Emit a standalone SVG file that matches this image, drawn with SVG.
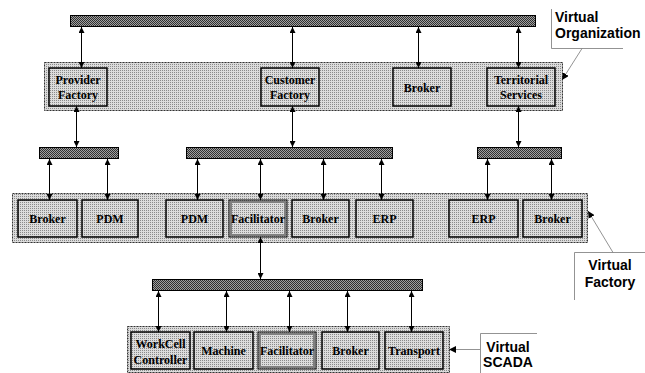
<svg xmlns="http://www.w3.org/2000/svg" width="645" height="373" viewBox="0 0 645 373">
<defs>
<marker id="ah" viewBox="0 0 10 10" refX="10" refY="5" markerWidth="6" markerHeight="6" orient="auto-start-reverse" markerUnits="userSpaceOnUse">
<path d="M0,0 L10,5 L0,10 z" fill="#000"/>
</marker>
<marker id="ahs" viewBox="0 0 10 10" refX="10" refY="5" markerWidth="7" markerHeight="7" orient="auto" markerUnits="userSpaceOnUse">
<path d="M0,0 L10,5 L0,10 z" fill="#000"/>
</marker>
<pattern id="dots" width="2" height="2" patternUnits="userSpaceOnUse">
<rect width="2" height="2" fill="#dcdcdc"/>
<rect width="1" height="1" fill="#8a8a8a"/>
</pattern>
<pattern id="hatch" width="2" height="2" patternUnits="userSpaceOnUse">
<rect width="2" height="2" fill="#a0a0a0"/>
<rect width="1" height="1" fill="#303030"/>
<rect x="1" y="1" width="1" height="1" fill="#303030"/>
</pattern>
</defs>
<style>
.bar{fill:url(#hatch);stroke:#000;stroke-width:1}
.cont{fill:url(#dots);stroke:#333;stroke-width:1;stroke-dasharray:2,1}
.box{fill:url(#dots);stroke:#000;stroke-width:1.5}
.fac{fill:url(#dots);stroke:#000;stroke-width:1}
.facin{fill:none;stroke:#808080;stroke-width:2}
.lbl{font-family:"Liberation Serif",serif;font-weight:bold;font-size:12px;text-anchor:middle;fill:#000}
.call{font-family:"Liberation Sans",Arial,sans-serif;font-weight:bold;font-size:14px;fill:#000}
.con{stroke:#000;stroke-width:1;fill:none;marker-start:url(#ah);marker-end:url(#ah)}
.co{stroke:#777;stroke-width:0.8;fill:none}
</style>

<g id="containers">
<rect class="cont" x="44.5" y="62.5" width="518" height="48"/>
<rect class="cont" x="12.5" y="193.5" width="575" height="49"/>
<rect class="cont" x="127.5" y="326.5" width="322" height="46"/>
</g>

<g id="bars">
<rect id="bar-top" class="bar" x="70.5" y="15.5" width="465" height="11"/>
<rect id="bar-left" class="bar" x="39.5" y="147.5" width="79" height="11"/>
<rect id="bar-mid" class="bar" x="186.5" y="147.5" width="206" height="11"/>
<rect id="bar-right" class="bar" x="477.5" y="147.5" width="84" height="11"/>
<rect id="bar-bottom" class="bar" x="152.5" y="279.5" width="270" height="11"/>
</g>

<g id="connectors">
<line class="con" x1="81.5" y1="27" x2="81.5" y2="68"/>
<line class="con" x1="292.5" y1="27" x2="292.5" y2="68"/>
<line class="con" x1="418.5" y1="27" x2="418.5" y2="68"/>
<line class="con" x1="518.5" y1="27" x2="518.5" y2="68"/>
<line class="con" x1="76.5" y1="106" x2="76.5" y2="147"/>
<line class="con" x1="292.5" y1="106" x2="292.5" y2="147"/>
<line class="con" x1="518.5" y1="106" x2="518.5" y2="147"/>
<line class="con" x1="49.5" y1="159" x2="49.5" y2="200"/>
<line class="con" x1="107.5" y1="159" x2="107.5" y2="200"/>
<line class="con" x1="197.5" y1="159" x2="197.5" y2="200"/>
<line class="con" x1="260.5" y1="159" x2="260.5" y2="200"/>
<line class="con" x1="323.5" y1="159" x2="323.5" y2="200"/>
<line class="con" x1="381.5" y1="159" x2="381.5" y2="200"/>
<line class="con" x1="487.5" y1="159" x2="487.5" y2="200"/>
<line class="con" x1="551.5" y1="159" x2="551.5" y2="200"/>
<line class="con" x1="260.5" y1="237" x2="260.5" y2="279"/>
<line class="con" x1="158.5" y1="291" x2="158.5" y2="332"/>
<line class="con" x1="226.5" y1="291" x2="226.5" y2="332"/>
<line class="con" x1="289.5" y1="291" x2="289.5" y2="332"/>
<line class="con" x1="347.5" y1="291" x2="347.5" y2="332"/>
<line class="con" x1="411.5" y1="291" x2="411.5" y2="332"/>
</g>

<g id="provider-factory"><rect class="box" x="49" y="68" width="58" height="38"/><text class="lbl" x="78" y="84">Provider</text><text class="lbl" x="78" y="99">Factory</text></g>
<g id="customer-factory"><rect class="box" x="261" y="68" width="58" height="38"/><text class="lbl" x="290" y="84">Customer</text><text class="lbl" x="290" y="99">Factory</text></g>
<g id="org-broker"><rect class="box" x="393" y="68" width="58" height="38"/><text class="lbl" x="422" y="92">Broker</text></g>
<g id="territorial-services"><rect class="box" x="487" y="68" width="68" height="38"/><text class="lbl" x="521" y="84">Territorial</text><text class="lbl" x="521" y="99">Services</text></g>

<g id="f-broker1"><rect class="box" x="18" y="200" width="59" height="37"/><text class="lbl" x="47.5" y="223">Broker</text></g>
<g id="f-pdm1"><rect class="box" x="82" y="200" width="56" height="37"/><text class="lbl" x="110" y="223">PDM</text></g>
<g id="f-pdm2"><rect class="box" x="166" y="200" width="57" height="37"/><text class="lbl" x="194.5" y="223">PDM</text></g>
<g id="f-facilitator"><rect class="fac" x="229" y="200" width="58" height="37"/><rect class="facin" x="231" y="202" width="54" height="33"/><text class="lbl" x="258" y="223">Facilitator</text></g>
<g id="f-broker2"><rect class="box" x="292" y="200" width="57" height="37"/><text class="lbl" x="320.5" y="223">Broker</text></g>
<g id="f-erp1"><rect class="box" x="356" y="200" width="57" height="37"/><text class="lbl" x="384.5" y="223">ERP</text></g>
<g id="f-erp2"><rect class="box" x="449" y="200" width="69" height="37"/><text class="lbl" x="483.5" y="223">ERP</text></g>
<g id="f-broker3"><rect class="box" x="523" y="200" width="59" height="37"/><text class="lbl" x="552.5" y="223">Broker</text></g>

<g id="s-workcell"><rect class="box" x="131" y="332" width="59" height="37"/><text class="lbl" x="160.5" y="348">WorkCell</text><text class="lbl" x="160.5" y="364">Controller</text></g>
<g id="s-machine"><rect class="box" x="194" y="332" width="59" height="37"/><text class="lbl" x="223.5" y="355">Machine</text></g>
<g id="s-facilitator"><rect class="fac" x="258" y="332" width="58" height="37"/><rect class="facin" x="260" y="334" width="54" height="33"/><text class="lbl" x="287" y="355">Facilitator</text></g>
<g id="s-broker"><rect class="box" x="322" y="332" width="57" height="37"/><text class="lbl" x="350.5" y="355">Broker</text></g>
<g id="s-transport"><rect class="box" x="385" y="332" width="58" height="37"/><text class="lbl" x="414" y="355">Transport</text></g>

<g id="label-virtual-organization">
<path class="co" d="M551.5,9 V48.5 H623"/>
<line class="co" x1="582" y1="48.5" x2="562" y2="80" marker-end="url(#ahs)"/>
<text class="call" x="555" y="22">Virtual</text>
<text class="call" x="555" y="38">Organization</text>
</g>
<g id="label-virtual-factory">
<path class="co" d="M574.5,300 V252.5 H645"/>
<line class="co" x1="613" y1="252.5" x2="588" y2="211" marker-end="url(#ahs)"/>
<text class="call" x="610" y="270" text-anchor="middle">Virtual</text>
<text class="call" x="610" y="287" text-anchor="middle">Factory</text>
</g>
<g id="label-virtual-scada">
<path class="co" d="M480.5,373 V333.5 H537"/>
<line class="co" x1="480" y1="349.5" x2="449" y2="349.5" marker-end="url(#ahs)"/>
<text class="call" x="508" y="352" text-anchor="middle">Virtual</text>
<text class="call" x="508" y="367" text-anchor="middle">SCADA</text>
</g>
</svg>
